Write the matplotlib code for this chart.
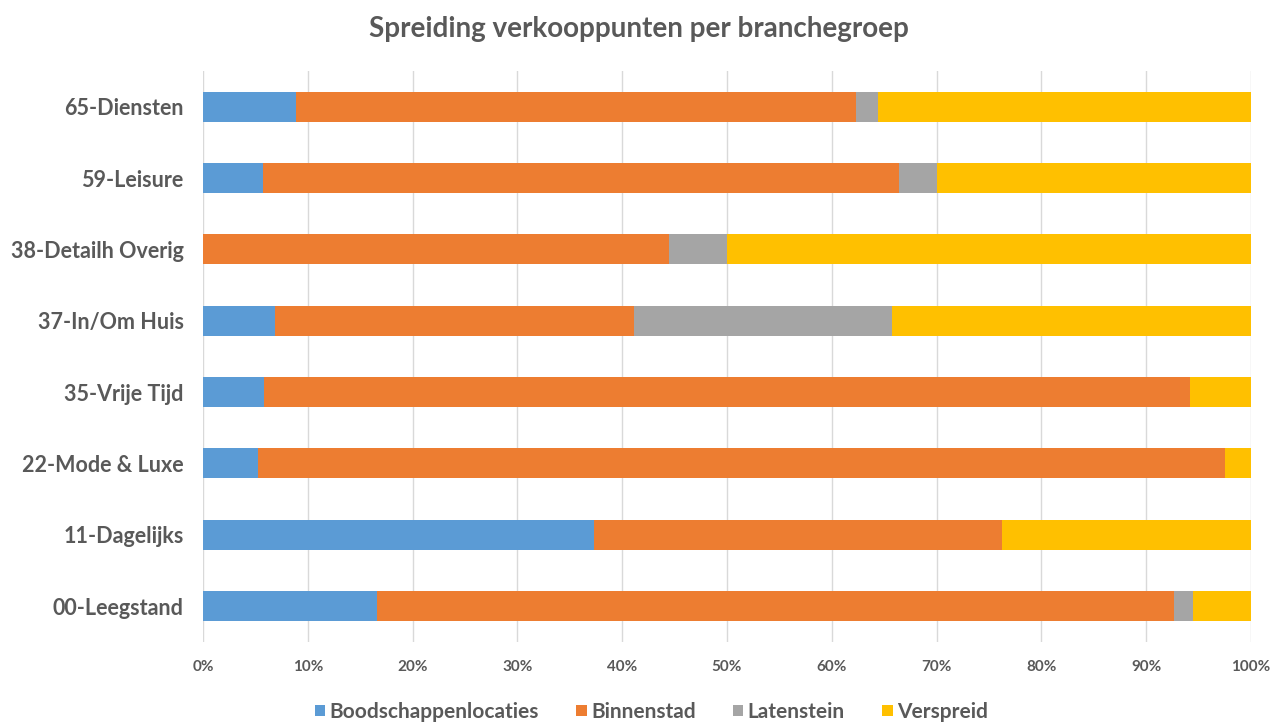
import matplotlib.pyplot as plt
import matplotlib.ticker as ticker
import numpy as np

plt.rcParams['font.family'] = ['Lato', 'DejaVu Sans']

categories = ["00-Leegstand", "11-Dagelijks", "22-Mode & Luxe", "35-Vrije Tijd",
              "37-In/Om Huis", "38-Detailh Overig", "59-Leisure", "65-Diensten"]

# shares in percent
boodschappen = [16.6, 37.3, 5.2, 5.8, 6.9, 0.0, 5.7, 8.9]
binnenstad = [76.1, 38.9, 92.3, 88.4, 34.2, 44.5, 60.7, 53.4]
latenstein = [1.8, 0.0, 0.0, 0.0, 24.6, 5.5, 3.6, 2.1]
verspreid = [5.5, 23.8, 2.5, 5.8, 34.3, 50.0, 30.0, 35.6]

series = [("Boodschappenlocaties", boodschappen, "#5B9BD5"),
          ("Binnenstad", binnenstad, "#ED7D31"),
          ("Latenstein", latenstein, "#A5A5A5"),
          ("Verspreid", verspreid, "#FFC000")]

txt = "#595959"

fig = plt.figure(figsize=(12.77, 7.22), dpi=100)
ax = fig.add_axes([0.159, 0.111, 0.8206, 0.7907])

y = np.arange(len(categories))
left = np.zeros(len(categories))
for name, vals, col in series:
    vals = np.array(vals)
    ax.barh(y, vals, left=left, height=0.42, color=col, label=name, zorder=3)
    left += vals

ax.set_xlim(0, 100)
ax.set_ylim(-0.5, len(categories) - 0.5)
ax.set_yticks(y)
ax.set_yticklabels(categories, fontsize=15.5, fontweight='bold', color=txt)
ax.xaxis.set_major_locator(ticker.MultipleLocator(10))
ax.xaxis.set_major_formatter(ticker.FuncFormatter(lambda v, p: f"{v:.0f}%"))
for lab in ax.get_xticklabels():
    lab.set_fontsize(11)
    lab.set_fontweight('bold')
    lab.set_color(txt)
ax.tick_params(axis='both', length=0)
ax.tick_params(axis='x', pad=13)
ax.tick_params(axis='y', pad=14)
ax.grid(axis='x', color='#D9D9D9', linewidth=1, zorder=0)
for s in ax.spines.values():
    s.set_visible(False)

fig.suptitle("Spreiding verkooppunten per branchegroep", x=0.5, y=0.978,
             fontsize=20, fontweight='bold', color=txt)

leg = ax.legend(loc='center', bbox_to_anchor=(0.51, 0.014), bbox_transform=fig.transFigure,
                ncol=4, frameon=False, handlelength=0.5, handleheight=0.5,
                handletextpad=0.2, columnspacing=1.8,
                prop={'size': 15, 'weight': 'bold'})
for t in leg.get_texts():
    t.set_color(txt)

plt.savefig('out.png', dpi=100)
